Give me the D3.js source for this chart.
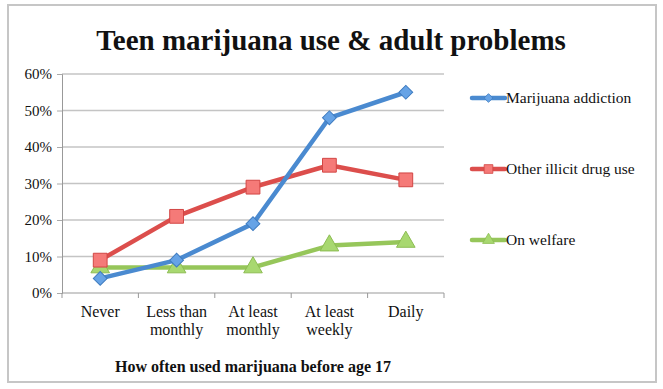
<!DOCTYPE html>
<html lang="en">
<head>
<meta charset="utf-8">
<title>Teen marijuana use</title>
<script src="https://cdnjs.cloudflare.com/ajax/libs/d3/7.8.5/d3.min.js"></script>
<style>
  body { margin: 0; background: #fff; }
  text { font-family: "Liberation Serif", "DejaVu Serif", serif; fill: #111; }
</style>
</head>
<body>
<script>
// data
var categories = ["Never", "Less than|monthly", "At least|monthly", "At least|weekly", "Daily"];
var addiction = [4, 9, 19, 48, 55];
var illicit = [9, 21, 29, 35, 31];
var welfare = [7, 7, 7, 13, 14];
var seriesNames = ["Marijuana addiction", "Other illicit drug use", "On welfare"];
var yTicks = [0, 10, 20, 30, 40, 50, 60];

var width = 663, height = 389;
var plot = {left: 62, right: 444, top: 74, bottom: 293};

var svg = d3.select("body").append("svg")
    .attr("width", width)
    .attr("height", height);

// outer frame
svg.append("rect")
   .attr("x", 8).attr("y", 5)
   .attr("width", 648).attr("height", 377)
   .attr("fill", "#fff")
   .attr("stroke", "#c6c6c6")
   .attr("stroke-width", 2);

var x = d3.scaleBand()
    .domain(d3.range(categories.length))
    .range([plot.left, plot.right]);

var y = d3.scaleLinear()
    .domain([0, 60])
    .range([plot.bottom, plot.top]);

// gridlines
svg.append("g").selectAll("line")
   .data(yTicks.slice(1))
   .enter().append("line")
   .attr("x1", plot.left).attr("x2", plot.right)
   .attr("y1", function(d) { return y(d); })
   .attr("y2", function(d) { return y(d); })
   .attr("stroke", "#c4c4c4")
   .attr("stroke-width", 1.5);

// y axis
var yAxis = d3.axisLeft(y).tickValues(yTicks).tickSize(5).tickPadding(5)
    .tickFormat(function(d) { return d + "%"; });
var gy = svg.append("g")
   .attr("transform", "translate(" + plot.left + ",0)")
   .call(yAxis);
gy.attr("font-family", null).attr("font-size", null);
gy.select(".domain").attr("stroke", "#999").attr("stroke-width", 1);
gy.selectAll(".tick line").attr("stroke", "#aaa");
gy.selectAll("text")
  .style("font-family", "'Liberation Serif', serif")
  .style("font-size", "15px")
  .attr("fill", "#111");

// x axis line + ticks at band boundaries
svg.append("line")
   .attr("x1", plot.left).attr("x2", plot.right)
   .attr("y1", plot.bottom).attr("y2", plot.bottom)
   .attr("stroke", "#999");
svg.append("g").selectAll("line")
   .data(d3.range(categories.length + 1))
   .enter().append("line")
   .attr("x1", function(i) { return plot.left + i * x.step(); })
   .attr("x2", function(i) { return plot.left + i * x.step(); })
   .attr("y1", plot.bottom).attr("y2", plot.bottom + 5)
   .attr("stroke", "#999");

// category labels
var cat = svg.append("g").selectAll("text")
   .data(categories)
   .enter().append("text")
   .attr("text-anchor", "middle")
   .attr("x", function(d, i) { return x(i) + x.bandwidth() / 2; })
   .attr("y", 317)
   .style("font-size", "16px");
cat.each(function(d) {
  var parts = d.split("|");
  var t = d3.select(this);
  parts.forEach(function(p, k) {
    t.append("tspan")
     .attr("x", t.attr("x"))
     .attr("dy", k === 0 ? 0 : 18)
     .text(p);
  });
});

// axis title
svg.append("text")
   .attr("x", 253).attr("y", 372)
   .attr("text-anchor", "middle")
   .style("font-size", "16px")
   .style("font-weight", "bold")
   .text("How often used marijuana before age 17");

// chart title
svg.append("text")
   .attr("x", 331).attr("y", 50)
   .attr("text-anchor", "middle")
   .style("font-size", "29px")
   .style("font-weight", "bold")
   .text("Teen marijuana use & adult problems");

var series = [
  {name: seriesNames[0], values: addiction, line: "#4a8ad0", fill: "#66a3e6", stroke: "#3f7cc0", shape: d3.symbolSquare, rot: 45, size: 95},
  {name: seriesNames[1], values: illicit, line: "#dc4e4c", fill: "#f57a78", stroke: "#d24644", shape: d3.symbolSquare, rot: 0, size: 190},
  {name: seriesNames[2], values: welfare, line: "#96c65a", fill: "#a8d870", stroke: "#8cbc52", shape: d3.symbolTriangle, rot: 0, size: 150}
];

var line = d3.line()
    .x(function(d, i) { return x(i) + x.bandwidth() / 2; })
    .y(function(d) { return y(d); });

// draw in reverse so blue ends on top
series.slice().reverse().forEach(function(s) {
  svg.append("path")
     .datum(s.values)
     .attr("d", line)
     .attr("fill", "none")
     .attr("stroke", s.line)
     .attr("stroke-width", 4.5)
     .attr("stroke-linejoin", "round");
  svg.append("g").selectAll("path")
     .data(s.values)
     .enter().append("path")
     .attr("transform", function(d, i) {
        return "translate(" + (x(i) + x.bandwidth() / 2) + "," + y(d) + ") rotate(" + s.rot + ")";
     })
     .attr("d", d3.symbol().type(s.shape).size(s.size))
     .attr("fill", s.fill)
     .attr("stroke", s.stroke)
     .attr("stroke-width", 1);
});

// legend
var legendY = [98, 169, 240];
series.forEach(function(s, i) {
  var g = svg.append("g").attr("transform", "translate(472," + legendY[i] + ")");
  g.append("line")
   .attr("x1", 0).attr("x2", 33)
   .attr("stroke", s.line)
   .attr("stroke-width", 4.5)
   .attr("stroke-linecap", "round");
  g.append("path")
   .attr("transform", "translate(16.5,0) rotate(" + s.rot + ")")
   .attr("d", d3.symbol().type(s.shape).size(s.size * 0.4))
   .attr("fill", s.fill)
   .attr("stroke", s.stroke)
   .attr("stroke-width", 0.8);
  g.append("text")
   .attr("x", 34).attr("y", 5)
   .style("font-size", "15.5px")
   .text(s.name);
});
</script>
</body>
</html>
